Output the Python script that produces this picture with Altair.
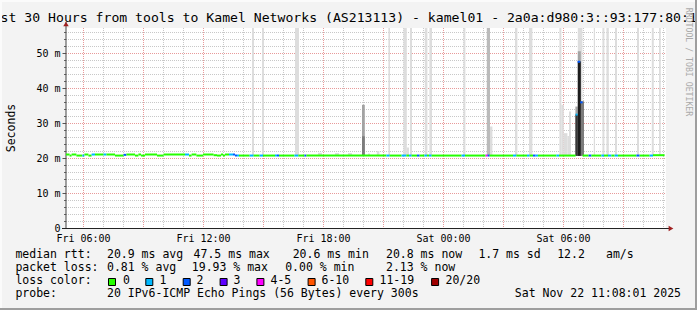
import altair as alt
import pandas as pd

# ---------------- data ----------------
TITLE = "Last 30 Hours from tools to Kamel Networks (AS213113) - kamel01 - 2a0a:d980:3::93:177:80:1"
WATERMARK = "RRDTOOL / TOBI OETIKER"
Y_TITLE = "Seconds"

# time in hours since Fri 2025-11-21 00:00, latency in milliseconds
x_domain = [5.15, 35.15]
y_domain = [0, 57.142857]

x_label_hours = [6, 12, 18, 24, 30]
x_label_names = ["Fri 06:00", "Fri 12:00", "Fri 18:00", "Sat 00:00", "Sat 06:00"]
y_label_values = [0, 10, 20, 30, 40, 50]

x_minor_grid = [7, 8, 10, 11, 13, 14, 16, 17, 19, 20, 22, 23,
                25, 26, 28, 29, 31, 32, 34, 35]
x_major_grid = [6, 9, 12, 15, 18, 21, 24, 27, 30, 33]
y_minor_grid = [2, 4, 6, 8, 12, 14, 16, 18, 22, 24, 26, 28, 32, 34, 36, 38,
                42, 44, 46, 48, 52, 54, 56]
y_major_grid = [10, 20, 30, 40, 50]

# median rtt runs (start hour, value ms, loss class); each run ends where the next starts
med_start = [
    5.15, 5.33, 5.43, 5.67, 5.97, 6.07, 6.27, 6.43, 6.60, 7.03,
    7.17, 7.60, 8.03, 8.17, 8.60, 8.77, 8.90, 9.10, 9.70, 10.03,
    11.10, 11.30, 11.43, 11.67, 12.00, 12.53, 12.70, 12.90, 13.00, 13.10,
    13.30, 13.50, 13.60, 13.70, 13.80, 14.33, 14.53, 14.83, 15.00, 15.60,
    15.70, 15.80, 16.57, 16.77, 17.07, 17.17, 21.17, 21.33, 21.93, 22.17,
    22.30, 22.43, 22.70, 22.83, 23.07, 23.20, 23.30, 23.43, 24.93, 25.10,
    26.13, 26.23, 26.33, 27.50, 27.67, 28.20, 28.33, 28.50, 28.63, 28.75,
    29.67, 29.80, 30.63, 30.73, 30.86, 30.98, 31.28, 31.42, 31.92, 32.05,
    32.25, 32.42, 32.58, 32.75, 33.67, 33.83, 34.33, 34.50]
med_last_end = 35.08
med_value = [
    21.0, 20.7, 21.0, 20.7, 20.7, 21.0, 20.7, 21.0, 21.0, 21.0,
    21.0, 20.7, 20.9, 21.0, 20.7, 21.0, 20.7, 21.0, 20.7, 21.0,
    21.0, 20.7, 21.0, 20.7, 21.0, 20.8, 20.7, 21.0, 20.7, 21.0,
    21.0, 21.0, 20.7, 20.7, 20.7, 20.7, 20.7, 20.7, 20.7, 20.7,
    20.7, 20.7, 20.7, 20.7, 20.7, 20.7, 20.7, 20.7, 20.7, 20.7,
    20.7, 20.7, 20.7, 20.7, 20.7, 20.7, 20.7, 20.7, 20.7, 20.7,
    20.7, 20.7, 20.7, 20.7, 20.7, 20.7, 20.7, 20.7, 20.7, 20.7,
    20.7, 20.7, 32.4, 47.5, 35.9, 20.7, 20.7, 20.7, 20.7, 20.7,
    20.7, 20.7, 20.7, 20.7, 20.7, 20.7, 20.7, 20.8]
med_loss = [
    "0", "0", "0", "0", "1", "0", "0", "1", "0", "1",
    "0", "0", "2", "0", "0", "0", "0", "0", "0", "0",
    "1", "0", "0", "0", "0", "0", "0", "0", "0", "0",
    "1", "2", "2", "1", "0", "1", "0", "1", "0", "1",
    "2", "0", "1", "0", "2", "0", "1", "0", "1", "0",
    "1", "0", "2", "0", "1", "0", "1", "0", "1", "0",
    "4-5", "2", "0", "1", "0", "1", "0", "2", "1", "0",
    "1", "0", "1", "2", "2", "0", "2", "0", "1", "0",
    "1", "0", "1", "0", "2", "0", "1", "0"]

# smoke (ping spread) per step: start hour, end hour, low ms, high ms, density level
smoke_start = [14.45, 14.95, 16.60, 17.75, 18.60, 19.25, 19.95, 19.95, 20.25, 20.69,
               21.27, 22.02, 22.19, 22.35, 23.09, 23.32, 25.02, 26.19, 26.35, 27.60,
               28.30, 29.82, 29.92, 30.04, 30.22, 30.30, 30.62, 30.62, 30.74, 30.74,
               30.74, 30.89, 31.54, 31.97, 32.17, 32.60, 33.70, 34.44, 34.80]
smoke_end = [14.55, 15.05, 16.80, 17.95, 18.80, 19.45, 20.09, 20.09, 20.35, 20.82,
             21.35, 22.19, 22.30, 22.45, 23.22, 23.45, 25.12, 26.35, 26.47, 27.72,
             28.47, 29.92, 30.04, 30.22, 30.30, 30.40, 30.74, 30.74, 30.97, 30.89,
             30.89, 31.05, 31.60, 32.07, 32.29, 32.70, 33.80, 34.54, 34.89]
smoke_low = [20.6] * 39
smoke_high = [80, 80, 80, 21.5, 21.4, 21.4, 35.2, 26.2, 21.3, 22.0,
              80, 80, 23.0, 80, 80, 80, 80, 80, 29.0, 80,
              80, 80, 35.2, 27.1, 26.3, 33.3, 34.7, 32.4, 80, 50.5,
              47.6, 36.2, 80, 80, 80, 80, 80, 80, 80]
smoke_level = [1, 1, 1, 1, 1, 1, 3, 4, 1, 1,
               1, 1, 1, 1, 1, 1, 1, 2, 1, 1,
               1, 1, 1, 1, 1, 1, 3, 5, 1, 3,
               6, 4, 1, 1, 1, 1, 1, 1, 1]

# legend text
rtt_label = "median rtt:"
rtt_stats = ["20.9 ms avg", "47.5 ms max", "20.6 ms min", "20.8 ms now", "1.7 ms sd", "12.2", "am/s"]
pl_label = "packet loss:"
pl_stats = ["0.81 % avg", "19.93 % max", "0.00 % min", "2.13 % now"]
lc_label = "loss color:"
loss_classes = ["0", "1", "2", "3", "4-5", "6-10", "11-19", "20/20"]
probe_label = "probe:"
probe_text = "20 IPv6-ICMP Echo Pings (56 Bytes) every 300s"
stamp = "Sat Nov 22 11:08:01 2025"

# ---------------- styles / layout ----------------
MONO = "DejaVu Sans Mono"
LOSS_COLORS = {"0": "#26ff00", "1": "#00b8ff", "2": "#0059ff", "3": "#5e00ff",
               "4-5": "#ff00ff", "6-10": "#ff5500", "11-19": "#ff0000", "20/20": "#a00000"}
SHADES = {1: "#dddddd", 2: "#bababa", 3: "#a3a3a3", 4: "#7c7c7c", 5: "#383838", 6: "#1c1c1c"}
GRID_MINOR = "#c8c8c8"
GRID_MAJOR = "#e89a9a"
OX, OY = 66, 28          # page position of plot origin
W, H = 600, 200
row_base = [257.7, 270.8, 284.2, 296.7]
col0 = 15.4
rtt_x = [107, 193.6, 292.7, 386, 478.4, 557.2, 606]
pl_x = [107, 191.8, 285.2, 386]
box_x = [108, 145.3, 182.7, 219.6, 256.4, 307.6, 365.3, 431.1]
box_label_x = [123, 159.5, 196.5, 233.5, 270.5, 321.5, 379.5, 445.5]
stamp_right = 681
LEG_FS = 11.5

xs = alt.Scale(domain=x_domain, nice=False, zero=False)
ys = alt.Scale(domain=y_domain, nice=False, zero=False)
one = pd.DataFrame({"k": [0]})

# ---------------- frames ----------------
med_end = med_start[1:] + [med_last_end]
med_df = pd.DataFrame({"start": med_start, "end": med_end, "value": med_value, "loss": med_loss})
med_df["col"] = med_df["loss"].map(LOSS_COLORS)

smoke_df = pd.DataFrame({"start": smoke_start, "end": smoke_end, "low": smoke_low,
                         "high": smoke_high, "level": smoke_level})
smoke_df["shade"] = smoke_df["level"].map(SHADES)
smoke_df = smoke_df.sort_values("level", kind="stable")

hgrid_df = pd.DataFrame({"gy": y_minor_grid + y_major_grid,
                         "gcol": [GRID_MINOR] * len(y_minor_grid) + [GRID_MAJOR] * len(y_major_grid)})
vgrid_df = pd.DataFrame({"gx": x_minor_grid + x_major_grid,
                         "gcol": [GRID_MINOR] * len(x_minor_grid) + [GRID_MAJOR] * len(x_major_grid)})

x_expr = ("[" + ",".join("'%s'" % n for n in x_label_names) + "][indexof(["
          + ",".join(str(h) for h in x_label_hours) + "], datum.value)]")
y_expr = "datum.value == 0 ? '0\u00a0\u00a0' : datum.value + ' m'"

x_axis = alt.Axis(values=x_label_hours, labelExpr=x_expr, title=None, grid=False, domain=False,
                  ticks=False, labelPadding=5.5, labelFont=MONO, labelFontSize=10,
                  labelColor="#000", labelAngle=0, labelFlush=False, labelOverlap=False)
y_axis = alt.Axis(values=y_label_values, labelExpr=y_expr, title=None, grid=False, domain=False,
                  ticks=True, tickSize=4, tickColor="#555", labelPadding=2, labelFont=MONO,
                  labelFontSize=10, labelColor="#000", labelFlush=False, labelOverlap=False)


def X(field):
    return alt.X(field, scale=xs, axis=x_axis)


def Y(field):
    return alt.Y(field, scale=ys, axis=y_axis)


smoke = alt.Chart(smoke_df).mark_rect(clip=True).encode(
    x=X("start:Q"), x2="end:Q", y=Y("low:Q"), y2="high:Q",
    color=alt.Color("shade:N", scale=None),
)

hgrid = alt.Chart(hgrid_df).mark_rule(strokeDash=[1, 1], strokeWidth=1, yOffset=0.5).encode(
    y=Y("gy:Q"), x=alt.value(0), x2=alt.value(W), color=alt.Color("gcol:N", scale=None))
vgrid = alt.Chart(vgrid_df).mark_rule(strokeDash=[1, 1], strokeWidth=1, xOffset=0.5).encode(
    x=X("gx:Q"), y=alt.value(0), y2=alt.value(H), color=alt.Color("gcol:N", scale=None))

ytick_minor = alt.Chart(pd.DataFrame({"ty": y_minor_grid})).mark_rule(
    color="#666", yOffset=0.5).encode(
    y=Y("ty:Q"), x=alt.value(-2), x2=alt.value(0))

y_line = alt.Chart(one).mark_rule(color="#444", strokeWidth=1).encode(
    x=alt.value(0), y=alt.value(-6), y2=alt.value(H))
x_line = alt.Chart(one).mark_rule(color="#222", strokeWidth=1).encode(
    x=alt.value(-4), x2=alt.value(W + 4), y=alt.value(H + 0.5))
arrow_up = alt.Chart(one).mark_point(shape="triangle-up", filled=True, size=30,
                                     color="#a02020", opacity=1).encode(
    x=alt.value(0), y=alt.value(-4))
arrow_right = alt.Chart(one).mark_point(shape="triangle-right", filled=True, size=30,
                                        color="#a02020", opacity=1).encode(
    x=alt.value(W + 5), y=alt.value(H + 0.5))

median = alt.Chart(med_df).mark_rule(strokeWidth=2, strokeCap="butt").encode(
    x=X("start:Q"), x2="end:Q", y=Y("value:Q"),
    color=alt.Color("col:N", scale=None),
)


# ---------------- texts (page-pixel placement) ----------------
def text_at(t, px, py, align="left", baseline="alphabetic", size=LEG_FS, color="#000", angle=0):
    kw = dict(align=align, baseline=baseline, font=MONO, fontSize=size, color=color)
    if angle:
        kw["angle"] = angle
    return alt.Chart(one).mark_text(**kw).encode(
        x=alt.value(px - OX), y=alt.value(py - OY), text=alt.value(t))


def rect_at(x0, x1, y0, y1, fill, stroke=None):
    kw = dict(color=fill, opacity=1)
    if stroke:
        kw.update(stroke=stroke, strokeWidth=1)
    return alt.Chart(one).mark_rect(**kw).encode(
        x=alt.value(x0 - OX), x2=alt.value(x1 - OX), y=alt.value(y0 - OY), y2=alt.value(y1 - OY))


texts = [text_at(rtt_label, col0, row_base[0])]
texts += [text_at(t, x, row_base[0]) for t, x in zip(rtt_stats, rtt_x)]
texts += [text_at(pl_label, col0, row_base[1])]
texts += [text_at(t, x, row_base[1]) for t, x in zip(pl_stats, pl_x)]
texts += [text_at(lc_label, col0, row_base[2])]
texts += [text_at(c, x, row_base[2]) for c, x in zip(loss_classes, box_label_x)]
texts += [text_at(probe_label, col0, row_base[3]), text_at(probe_text, 107, row_base[3])]
texts += [text_at(stamp, stamp_right, row_base[3], align="right")]
texts += [text_at(TITLE, -15.2, 22, size=13.15)]
texts += [text_at(Y_TITLE, 14.5, 128, align="center", angle=270)]
texts += [text_at(WATERMARK, 688, 62, align="center", baseline="middle", size=8.2,
                  color="#aaaaaa", angle=90)]

boxes = [rect_at(b + 0.5, b + 7.5, 278.5, 285.5, LOSS_COLORS[c], stroke="#000")
         for b, c in zip(box_x, loss_classes)]

borders = [rect_at(0, 2, 0, 310, "#fbfbfb"), rect_at(0, 697, 0, 2, "#fbfbfb"),
           rect_at(695, 697, 0, 310, "#9e9e9e"), rect_at(0, 697, 308, 310, "#9e9e9e")]

chart = alt.layer(
    hgrid, vgrid, smoke, ytick_minor, y_line, x_line, median, arrow_up, arrow_right,
    *texts, *boxes, *borders,
).properties(
    width=W, height=H,
    autosize=alt.AutoSizeParams(type="none"),
    padding={"left": OX, "top": OY, "right": 697 - OX - W, "bottom": 310 - OY - H},
    background="#f3f3f3",
).configure_view(fill="white", stroke=None)

chart.save("out.html", embed_options={"renderer": "svg", "actions": False})
